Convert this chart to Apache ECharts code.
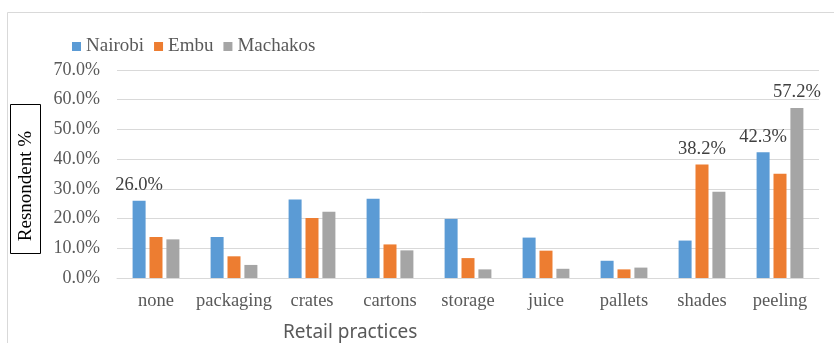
<!DOCTYPE html>
<html>
<head>
<meta charset="utf-8">
<script src="https://cdn.jsdelivr.net/npm/echarts@6/dist/echarts.min.js"></script>
<style>
  html, body { margin: 0; padding: 0; background: #fff; }
  #chart { width: 834px; height: 343px; }
</style>
</head>
<body>
<div id="chart"></div>
<script>
const categories = ["none", "packaging", "crates", "cartons", "storage", "juice", "pallets", "shades", "peeling"];
const nairobi = [26.0, 13.8, 26.4, 26.7, 19.9, 13.6, 5.8, 12.6, 42.3];
const embu = [13.8, 7.3, 20.2, 11.3, 6.7, 9.2, 2.9, 38.2, 35.1];
const machakos = [13.0, 4.4, 22.3, 9.3, 2.9, 3.1, 3.5, 29.0, 57.2];
// which bars carry a value label in the original
const labelledNairobi = [0, 8];
const labelledEmbu = [7];
const labelledMachakos = [8];

const serif = "Liberation Serif";

function withLabels(values, labelled) {
  return values.map((v, i) => labelled.includes(i)
    ? { value: v, label: { show: true } }
    : v);
}

const barLabel = {
  show: false,
  position: "top",
  distance: 6,
  fontFamily: serif,
  fontSize: 18.5,
  color: "#404040",
  formatter: (p) => p.value.toFixed(1) + "%",
};

const chart = echarts.init(document.getElementById("chart"));
chart.setOption({
  animation: false,
  backgroundColor: "#fff",
  color: ["#5b9bd5", "#ed7d31", "#a5a5a5"],
  legend: {
    left: 72,
    top: 37,
    padding: 0,
    itemWidth: 9,
    itemHeight: 9,
    itemGap: 10,
    icon: "rect",
    textStyle: { fontFamily: serif, fontSize: 19, color: "#595959" },
  },
  grid: { left: 117, right: 15, top: 70, bottom: 65 },
  title: {
    text: "Retail practices",
    left: 278,
    top: 318,
    textStyle: { fontFamily: "Noto Sans", fontSize: 19, fontWeight: "normal", color: "#595959" },
  },
  graphic: [
    {
      type: "rect",
      shape: { x: 7.5, y: 12.5, width: 830, height: 340 },
      style: { fill: "none", stroke: "#d9d9d9", lineWidth: 1 },
      silent: true,
    },
    {
      type: "rect",
      shape: { x: 10.5, y: 104.5, width: 30, height: 149 },
      style: { fill: "#fff", stroke: "#000", lineWidth: 1 },
      silent: true,
    },
    {
      type: "text",
      x: 26,
      y: 186,
      rotation: Math.PI / 2,
      style: {
        text: "Resnondent %",
        fontFamily: serif,
        fontSize: 19,
        fill: "#000",
        align: "center",
        verticalAlign: "middle",
      },
      silent: true,
    },
  ],
  xAxis: {
    type: "category",
    data: categories,
    axisLine: { lineStyle: { color: "#d9d9d9" } },
    axisTick: { show: false },
    axisLabel: { interval: 0, fontFamily: serif, fontSize: 18.5, color: "#595959", margin: 14 },
  },
  yAxis: {
    type: "value",
    min: 0,
    max: 70,
    interval: 10,
    axisLine: { show: false },
    axisTick: { show: false },
    axisLabel: {
      fontFamily: serif,
      fontSize: 18,
      color: "#595959",
      margin: 17,
      formatter: (v) => v.toFixed(1) + "%",
    },
    splitLine: { lineStyle: { color: "#d9d9d9" } },
  },
  series: [
    { name: "Nairobi", type: "bar", data: withLabels(nairobi, labelledNairobi), barGap: "30%", barCategoryGap: "40%", label: barLabel },
    { name: "Embu", type: "bar", data: withLabels(embu, labelledEmbu), barGap: "30%", barCategoryGap: "40%", label: barLabel },
    { name: "Machakos", type: "bar", data: withLabels(machakos, labelledMachakos), barGap: "30%", barCategoryGap: "40%", label: barLabel },
  ],
});
</script>
</body>
</html>
